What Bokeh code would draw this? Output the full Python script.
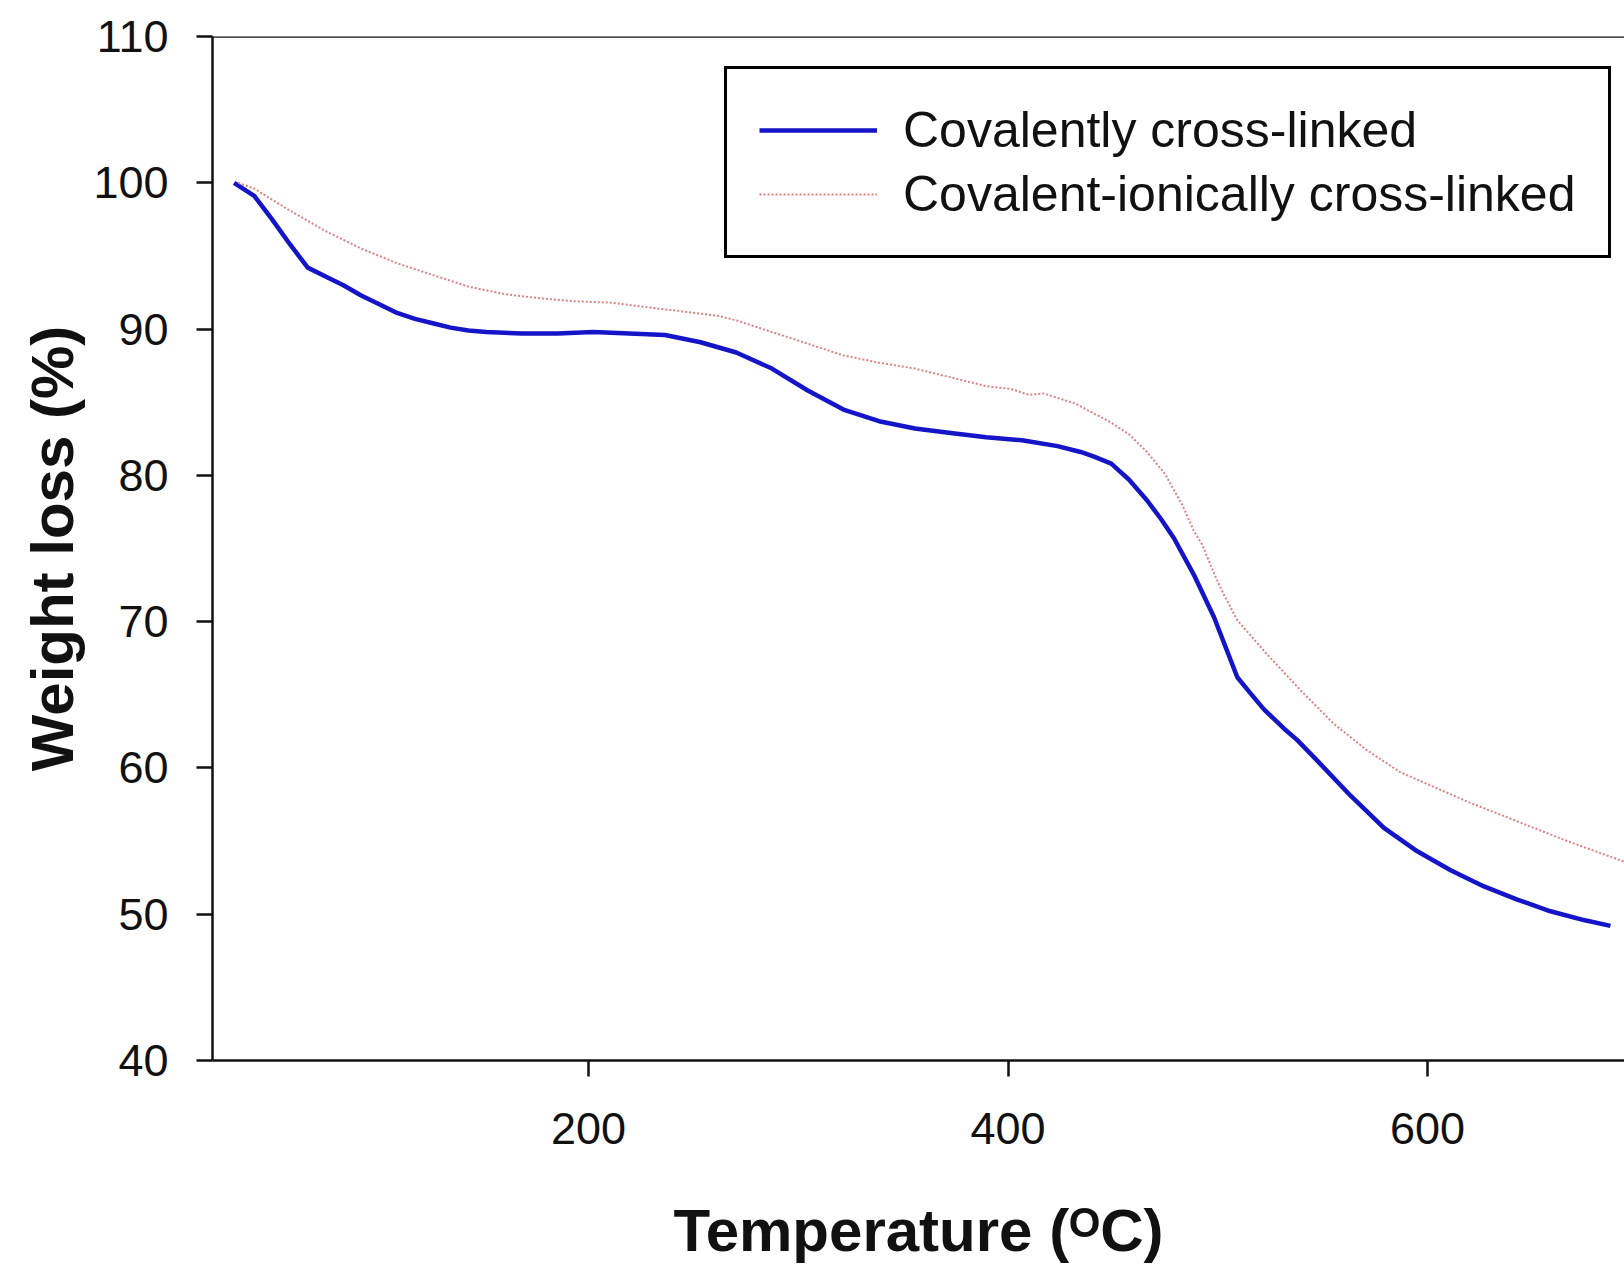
from bokeh.plotting import figure
from bokeh.models import Range1d, Span, Legend, LegendItem, FixedTicker
from bokeh.embed import file_html
from bokeh.resources import INLINE

# ---- data ----
temp_cov = [31, 40.6, 49.1, 57.6, 66.1, 74.6, 83.1, 91.6, 100.2, 108.7, 117.2, 125.7,
            134.2, 142.7, 151.2, 168.2, 185.3, 202.3, 219.4, 236.4, 253.4, 270.4, 287.4,
            304.5, 321.5, 338.5, 355.6, 372.6, 389.6, 406.6, 423.6, 434.6, 440.7, 449.2,
            457.7, 466.2, 473.0, 479.1, 488.6, 498.2, 509.3, 515.6, 522.0, 531.5, 537.9,
            547.4, 563.3, 579.2, 595.1, 611.0, 626.9, 642.8, 658.6, 674.5, 687.2]
wl_cov = [100.0, 99.1, 97.5, 95.8, 94.2, 93.6, 93.0, 92.3, 91.7, 91.1, 90.7, 90.4,
          90.1, 89.9, 89.8, 89.7, 89.7, 89.8, 89.7, 89.6, 89.1, 88.4, 87.3,
          85.8, 84.5, 83.7, 83.2, 82.9, 82.6, 82.4, 82.0, 81.6, 81.3, 80.8,
          79.7, 78.3, 77.0, 75.7, 73.2, 70.3, 66.2, 65.1, 64.0, 62.7, 61.9,
          60.5, 58.1, 55.9, 54.3, 53.0, 51.9, 51.0, 50.2, 49.6, 49.2]

temp_ion = [33, 40.6, 57.6, 74.6, 91.6, 108.7, 125.7, 142.7, 159.8, 176.8, 193.8, 210.8,
            227.8, 244.9, 261.9, 270.4, 287.4, 304.5, 321.5, 338.5, 355.6, 372.6, 389.6,
            401.5, 410.0, 416.9, 432.2, 449.2, 457.7, 466.2, 474.8, 479.0, 483.0, 488.6,
            492.4, 498.2, 502.3, 509.3, 522.0, 539.5, 555.4, 571.2, 587.1, 603.0, 618.9,
            634.8, 650.7, 666.6, 693.6]
wl_ion = [100.0, 99.6, 98.1, 96.7, 95.5, 94.5, 93.7, 92.9, 92.4, 92.1, 91.9, 91.8,
          91.5, 91.2, 90.9, 90.6, 89.8, 89.0, 88.2, 87.7, 87.3, 86.7, 86.1,
          85.9, 85.5, 85.6, 84.9, 83.6, 82.8, 81.6, 80.1, 79.0, 78.0, 76.2,
          75.3, 73.3, 72.0, 70.1, 68.0, 65.3, 63.0, 61.2, 59.7, 58.7, 57.7,
          56.8, 55.9, 55.0, 53.6]

x_ticks = [200, 400, 600]
y_ticks = [40, 50, 60, 70, 80, 90, 100, 110]

series_names = ["Covalently cross-linked", "Covalent-ionically cross-linked"]
y_title = "Weight loss (%)"
x_title = "Temperature (\u1d3cC)"

BLUE = "#1414c8"
RED = "#e08080"
INK = "#111111"
FONT = "Liberation Sans"

p = figure(width=1624, height=1269, output_backend="svg", toolbar_location=None,
           x_range=Range1d(20.7, 693.9), y_range=Range1d(40, 110),
           min_border_left=212, min_border_top=36, min_border_right=0,
           min_border_bottom=209)
p.xgrid.visible = False
p.ygrid.visible = False
p.outline_line_color = None
p.background_fill_color = "white"
p.border_fill_color = "white"

p.xaxis.ticker = FixedTicker(ticks=x_ticks)
p.yaxis.ticker = FixedTicker(ticks=y_ticks)
for ax in (p.xaxis, p.yaxis):
    ax.minor_tick_line_color = None
    ax.major_tick_in = 0
    ax.major_tick_out = 16
    ax.major_tick_line_width = 2.5
    ax.major_tick_line_color = INK
    ax.axis_line_width = 2.5
    ax.axis_line_color = INK
    ax.major_label_text_font = FONT
    ax.major_label_text_font_size = "45px"
    ax.major_label_text_color = INK
    ax.axis_label_text_font = FONT
    ax.axis_label_text_font_style = "bold"
    ax.axis_label_text_font_size = "60px"
    ax.axis_label_text_color = INK
p.yaxis.major_label_standoff = 28
p.xaxis.major_label_standoff = 36

p.yaxis.axis_label = y_title
p.yaxis.axis_label_standoff = 4
p.xaxis.axis_label = x_title
p.xaxis.axis_label_standoff = 50

p.add_layout(Span(location=110, dimension="width", line_color=INK, line_width=2.5))

r1 = p.line(temp_cov, wl_cov, line_color=BLUE, line_width=4.5)
r2 = p.line(temp_ion, wl_ion, line_color=RED, line_width=2, line_dash="2 2")

legend = Legend(items=[LegendItem(label=series_names[0], renderers=[r1]),
                       LegendItem(label=series_names[1], renderers=[r2])],
                location=(512, 802))
legend.label_text_font = FONT
legend.label_text_font_size = "50px"
legend.label_text_color = INK
legend.glyph_width = 118
legend.glyph_height = 40
legend.label_standoff = 26
legend.padding = 32
legend.spacing = 6
legend.margin = 0
legend.border_line_color = "#000000"
legend.border_line_alpha = 1.0
legend.border_line_width = 3
legend.background_fill_alpha = 1.0
p.add_layout(legend)

open("out.html", "w").write(file_html(p, INLINE))
